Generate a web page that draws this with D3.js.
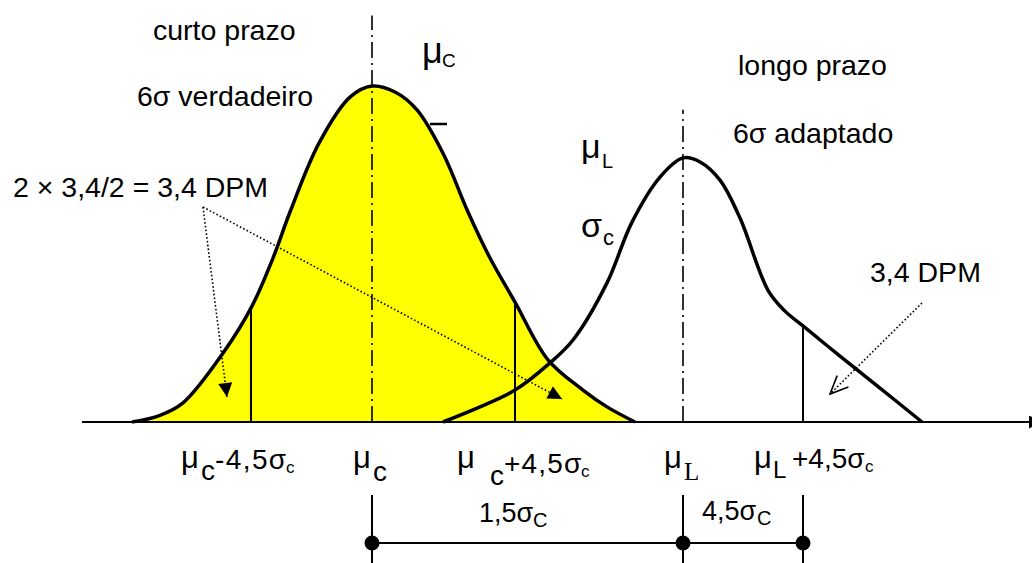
<!DOCTYPE html>
<html>
<head>
<meta charset="utf-8">
<script src="https://cdn.jsdelivr.net/npm/d3@7"></script>
<style>
  html, body { margin: 0; padding: 0; background: #fff; }
  svg { display: block; font-family: "Liberation Sans", Arial, sans-serif; }
</style>
</head>
<body>
<div id="chart"></div>
<script>
// curve points: [position (mu_C = 0), height (peak of short term = 1)]
const shortTermCurve = [
    [-2.40, 0], [-2.12, 0.02], [-1.89, 0.057], [-1.49, 0.205], [-1.20, 0.345],
    [-0.99, 0.488], [-0.82, 0.625], [-0.53, 0.83], [-0.22, 0.967], [0, 1],
    [0.23, 0.982], [0.45, 0.929], [0.71, 0.80], [0.96, 0.625], [1.18, 0.488],
    [1.43, 0.357], [1.76, 0.185], [2.11, 0.095], [2.35, 0.045], [2.63, 0]
];
const longTermCurve = [
    [0.71, 0], [1.08, 0.045], [1.43, 0.095], [1.78, 0.176], [2.01, 0.244],
    [2.35, 0.414], [2.60, 0.595], [2.88, 0.729], [3.11, 0.786], [3.28, 0.774],
    [3.48, 0.720], [3.68, 0.607], [3.96, 0.392], [4.13, 0.330], [4.31, 0.286],
    [4.68, 0.196], [5.08, 0.101], [5.50, 0]
];
const limitLines = [
    { pos: -1.21, top: 0.345 },  // mu_c - 4,5 sigma_c
    { pos: 1.43, top: 0.357 },   // mu_c + 4,5 sigma_c
    { pos: 4.31, top: 0.286 }    // mu_L + 4,5 sigma_c
];
const centerLines = [
    { pos: 0, top: 1.21 },       // mu_C
    { pos: 3.11, top: 0.929 }    // mu_L
];
const axisExtent = [-2.90, 6.70];
const dimensionPoints = [0, 3.11, 4.31];
const dimensionLevel = -0.36;
const dimensionTicks = [-0.217, -0.43];

const width = 1032, height = 563;

const svg = d3.select('#chart').append('svg')
    .attr('width', width)
    .attr('height', height);

const x = d3.scaleLinear().domain([0, 1]).range([372, 472]);
const y = d3.scaleLinear().domain([0, 1]).range([422, 86]);

// markers
const defs = svg.append('defs');
defs.append('marker')
    .attr('id', 'filled')
    .attr('viewBox', '0 0 10 10')
    .attr('refX', 10).attr('refY', 5)
    .attr('markerWidth', 17).attr('markerHeight', 14)
    .attr('markerUnits', 'userSpaceOnUse')
    .attr('orient', 'auto')
    .append('path').attr('d', 'M0,0L10,5L0,10Z').attr('fill', '#000');
defs.append('marker')
    .attr('id', 'axisHead')
    .attr('viewBox', '0 0 10 10')
    .attr('refX', 10).attr('refY', 5)
    .attr('markerWidth', 16).attr('markerHeight', 13)
    .attr('markerUnits', 'userSpaceOnUse')
    .attr('orient', 'auto')
    .append('path').attr('d', 'M0,0L10,5L0,10Z').attr('fill', '#000');
defs.append('marker')
    .attr('id', 'open')
    .attr('viewBox', '0 0 20 20')
    .attr('refX', 19).attr('refY', 10)
    .attr('markerWidth', 20).attr('markerHeight', 20)
    .attr('markerUnits', 'userSpaceOnUse')
    .attr('orient', 'auto')
    .append('path').attr('d', 'M1,2L19,10L1,18')
    .attr('fill', 'none').attr('stroke', '#000').attr('stroke-width', 1.6);

const curve = d3.curveCatmullRom.alpha(0.5);

// yellow area under the short term curve
const area = d3.area()
    .x(d => x(d[0]))
    .y0(y(0))
    .y1(d => y(d[1]))
    .curve(curve);

svg.append('path')
    .datum(shortTermCurve)
    .attr('d', area)
    .attr('fill', '#ffff00');

// center lines (dash-dot)
svg.selectAll('.center')
    .data(centerLines)
    .enter().append('line')
    .attr('x1', d => x(d.pos)).attr('x2', d => x(d.pos))
    .attr('y1', y(0)).attr('y2', d => y(d.top))
    .attr('stroke', '#000')
    .attr('stroke-width', 1.6)
    .attr('stroke-dasharray', '16,5,2,5');

// limit lines
svg.selectAll('.limit')
    .data(limitLines)
    .enter().append('line')
    .attr('x1', d => x(d.pos)).attr('x2', d => x(d.pos))
    .attr('y1', y(0)).attr('y2', d => y(d.top))
    .attr('stroke', '#000')
    .attr('stroke-width', 2);

// baseline with arrow
svg.append('line')
    .attr('x1', x(axisExtent[0])).attr('x2', x(axisExtent[1]))
    .attr('y1', y(0)).attr('y2', y(0))
    .attr('stroke', '#000')
    .attr('stroke-width', 2)
    .attr('marker-end', 'url(#axisHead)');

const line = d3.line()
    .x(d => x(d[0]))
    .y(d => y(d[1]))
    .curve(curve);

svg.append('path')
    .datum(longTermCurve)
    .attr('d', line)
    .attr('fill', 'none')
    .attr('stroke', '#000')
    .attr('stroke-width', 3.5);

svg.append('path')
    .datum(shortTermCurve)
    .attr('d', line)
    .attr('fill', 'none')
    .attr('stroke', '#000')
    .attr('stroke-width', 3.5);

// dotted pointers
const pointers = [
    { from: [203, 207], to: [227, 397], head: 'filled' },
    { from: [203, 207], to: [562, 399], head: 'filled' },
    { from: [922, 303], to: [830, 394], head: 'open' }
];
svg.selectAll('.pointer')
    .data(pointers)
    .enter().append('line')
    .attr('x1', d => d.from[0]).attr('y1', d => d.from[1])
    .attr('x2', d => d.to[0]).attr('y2', d => d.to[1])
    .attr('stroke', '#000')
    .attr('stroke-width', 1.6)
    .attr('stroke-dasharray', '1.6,2.2')
    .attr('marker-end', d => `url(#${d.head})`);

// little bar next to mu_C
svg.append('line')
    .attr('x1', 430).attr('x2', 447)
    .attr('y1', 124).attr('y2', 124)
    .attr('stroke', '#000').attr('stroke-width', 2.5);

// dimension line
svg.selectAll('.dimTick')
    .data(dimensionPoints)
    .enter().append('line')
    .attr('x1', d => x(d)).attr('x2', d => x(d))
    .attr('y1', y(dimensionTicks[0])).attr('y2', y(dimensionTicks[1]))
    .attr('stroke', '#000').attr('stroke-width', 2);

svg.append('line')
    .attr('x1', x(dimensionPoints[0])).attr('x2', x(dimensionPoints[dimensionPoints.length - 1]))
    .attr('y1', y(dimensionLevel)).attr('y2', y(dimensionLevel))
    .attr('stroke', '#000').attr('stroke-width', 2);

svg.selectAll('.dimDot')
    .data(dimensionPoints)
    .enter().append('circle')
    .attr('cx', d => x(d))
    .attr('cy', y(dimensionLevel))
    .attr('r', 7.5)
    .attr('fill', '#000');

// text helper: parts = [text, size, baseline y, x (null = follow on), font, letter spacing]
function label(parts) {
    const t = svg.append('text').attr('fill', '#000');
    parts.forEach(p => {
        const s = t.append('tspan')
            .attr('y', p[2])
            .style('font-size', p[1] + 'px')
            .text(p[0]);
        if (p[3] != null) s.attr('x', p[3]);
        if (p[4]) s.style('font-family', p[4]);
        if (p[5]) s.style('letter-spacing', p[5] + 'px');
    });
    return t;
}

const serif = '"Liberation Serif", "Times New Roman", serif';

label([['curto prazo', 28.5, 40, 153]]);
label([['6σ verdadeiro', 28.5, 106, 137]]);
label([['2 × 3,4/2 = 3,4 DPM', 28.5, 197, 13]]);
label([['longo prazo', 28.5, 75, 738]]);
label([['6σ adaptado', 28.5, 143, 733]]);
label([['3,4 DPM', 28.5, 282, 870]]);

label([['μ', 36, 63, 422], ['C', 19, 67, 442]]);
label([['μ', 34, 158, 581], ['L', 20, 168, 602]]);
label([['σ', 34, 237, 581], ['c', 22, 245, 603]]);

label([['μ', 31, 468, 181], ['c', 28, 480, 201], ['-4,5σ', 28, 469, 215, null, 1.4], ['c', 17, 473, 286]]);
label([['μ', 31, 468, 353], ['c', 28, 481, 373]]);
label([['μ', 31, 468, 457], ['c', 28, 485, 490], ['+4,5σ', 28, 473, 504, null, 1.2], ['c', 17, 477, 581]]);
label([['1,5σ', 27, 522, 479], ['C', 20, 527, 533]]);

label([['μ', 31, 468, 664], ['L', 25, 480, 684, serif]]);
label([['μ', 31, 468, 754], ['L', 24, 478, 773], ['+4,5σ', 28, 468, 792], ['c', 17, 472, 865]]);
label([['4,5σ', 27, 520, 702], ['C', 20, 525, 757]]);
</script>
</body>
</html>
